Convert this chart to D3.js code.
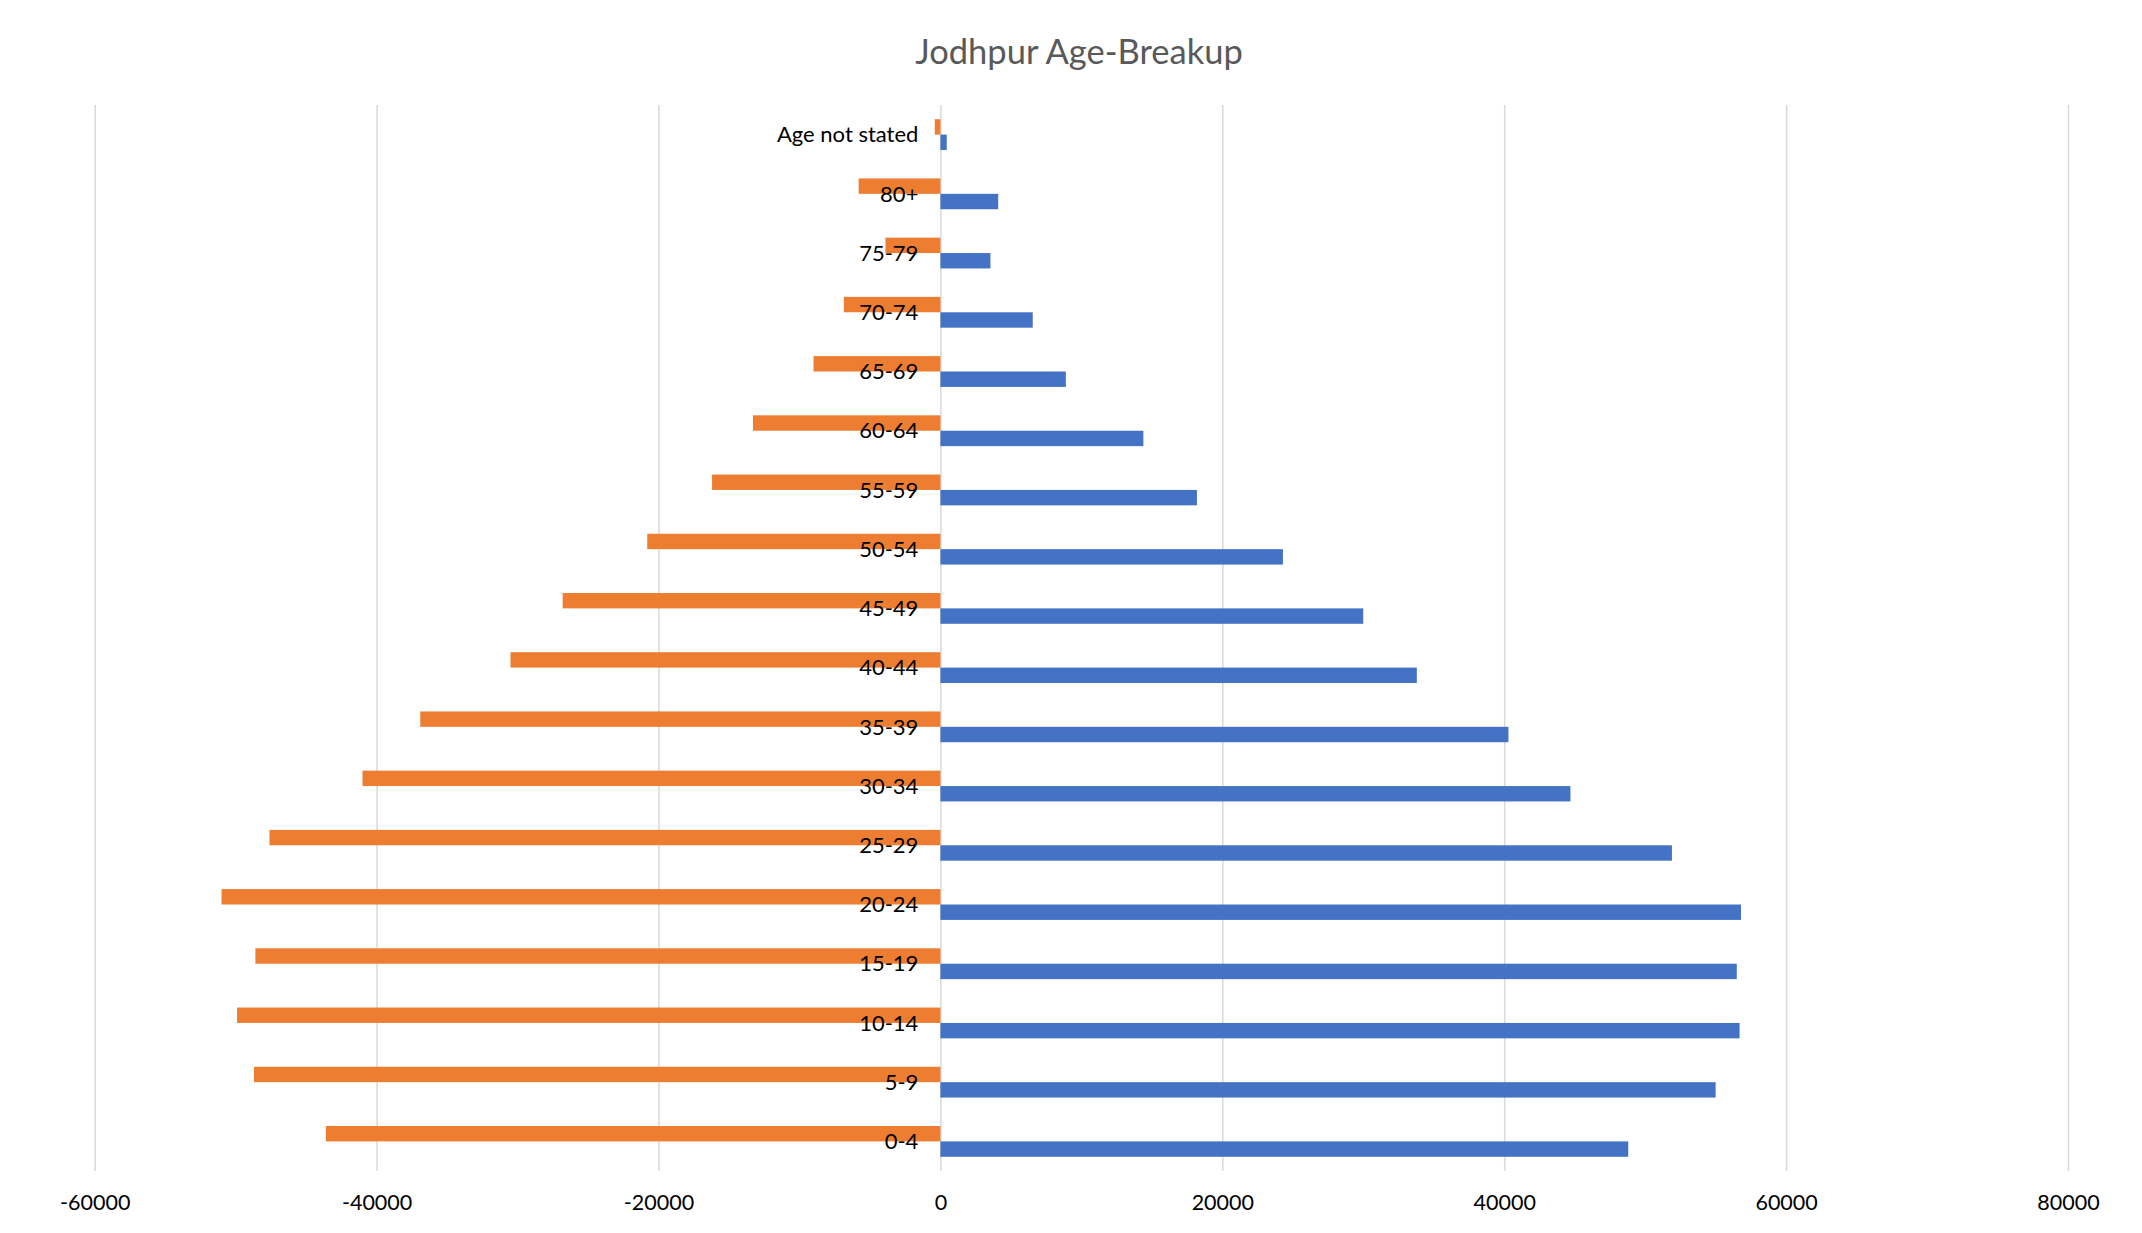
<!DOCTYPE html>
<html>
<head>
<meta charset="utf-8">
<script src="https://cdn.jsdelivr.net/npm/d3@7"></script>
<style>
  html, body { margin: 0; padding: 0; background: #ffffff; }
  svg { display: block; }
</style>
</head>
<body>
<script>
// Data (top to bottom as drawn)
const categories = ["Age not stated", "80+", "75-79", "70-74", "65-69", "60-64", "55-59", "50-54",
  "45-49", "40-44", "35-39", "30-34", "25-29", "20-24", "15-19", "10-14", "5-9", "0-4"];
const femaleValues = [-400, -5800, -3900, -6850, -9000, -13300, -16200, -20800,
  -26800, -30500, -36900, -41000, -47600, -51000, -48600, -49900, -48700, -43600];
const maleValues = [450, 4100, 3550, 6550, 8900, 14400, 18200, 24300,
  30000, 33800, 40300, 44700, 51900, 56800, 56500, 56700, 55000, 48800];
const xTicks = [-60000, -40000, -20000, 0, 20000, 40000, 60000, 80000];
const titleText = "Jodhpur Age-Breakup";

const W = 2142, H = 1233;
const svg = d3.select("body").append("svg").attr("width", W).attr("height", H);

const x = d3.scaleLinear().domain([-60000, 80000]).range([94.7, 2068]);
const y = d3.scaleBand().domain(categories).range([105, 1171]).paddingInner(0.48).paddingOuter(0.24);
const sub = d3.scaleBand().domain(["female", "male"]).range([0, y.bandwidth()]);

// Title
svg.append("text")
  .attr("x", 1079).attr("y", 50)
  .attr("text-anchor", "middle").attr("dominant-baseline", "central")
  .attr("font-family", "Lato, 'Open Sans', sans-serif").attr("font-weight", 400)
  .attr("font-size", 34.5).attr("fill", "#595959")
  .text(titleText);

// Gridlines + tick labels
const xAxis = d3.axisBottom(x).tickValues(xTicks).tickSize(-(1171 - 105)).tickFormat(d => String(d));
const gx = svg.append("g").attr("transform", "translate(0,1171)").call(xAxis);
gx.select(".domain").remove();
gx.selectAll(".tick line").attr("stroke", "#d9d9d9").attr("stroke-width", 1.5);
gx.selectAll(".tick text")
  .attr("y", 31).attr("dy", "0.35em")
  .attr("font-family", "Lato, 'Open Sans', sans-serif").attr("font-size", 21.5).attr("fill", "#000");

// Bars
const groups = svg.append("g").selectAll("g").data(categories).join("g")
  .attr("transform", d => `translate(0,${y(d)})`);

groups.append("rect")
  .attr("x", (d, i) => x(femaleValues[i]))
  .attr("y", sub("female"))
  .attr("width", (d, i) => x(0) - x(femaleValues[i]))
  .attr("height", sub.bandwidth())
  .attr("fill", "#ED7D31");

groups.append("rect")
  .attr("x", x(0))
  .attr("y", sub("male"))
  .attr("width", (d, i) => x(maleValues[i]) - x(0))
  .attr("height", sub.bandwidth())
  .attr("fill", "#4472C4");

// Category labels
svg.append("g").selectAll("text").data(categories).join("text")
  .attr("x", x(0) - 22)
  .attr("y", d => y(d) + y.bandwidth() / 2)
  .attr("dy", "0.35em")
  .attr("text-anchor", "end")
  .attr("font-family", "Lato, 'Open Sans', sans-serif").attr("font-size", 22).attr("fill", "#000")
  .text(d => d);
</script>
</body>
</html>
